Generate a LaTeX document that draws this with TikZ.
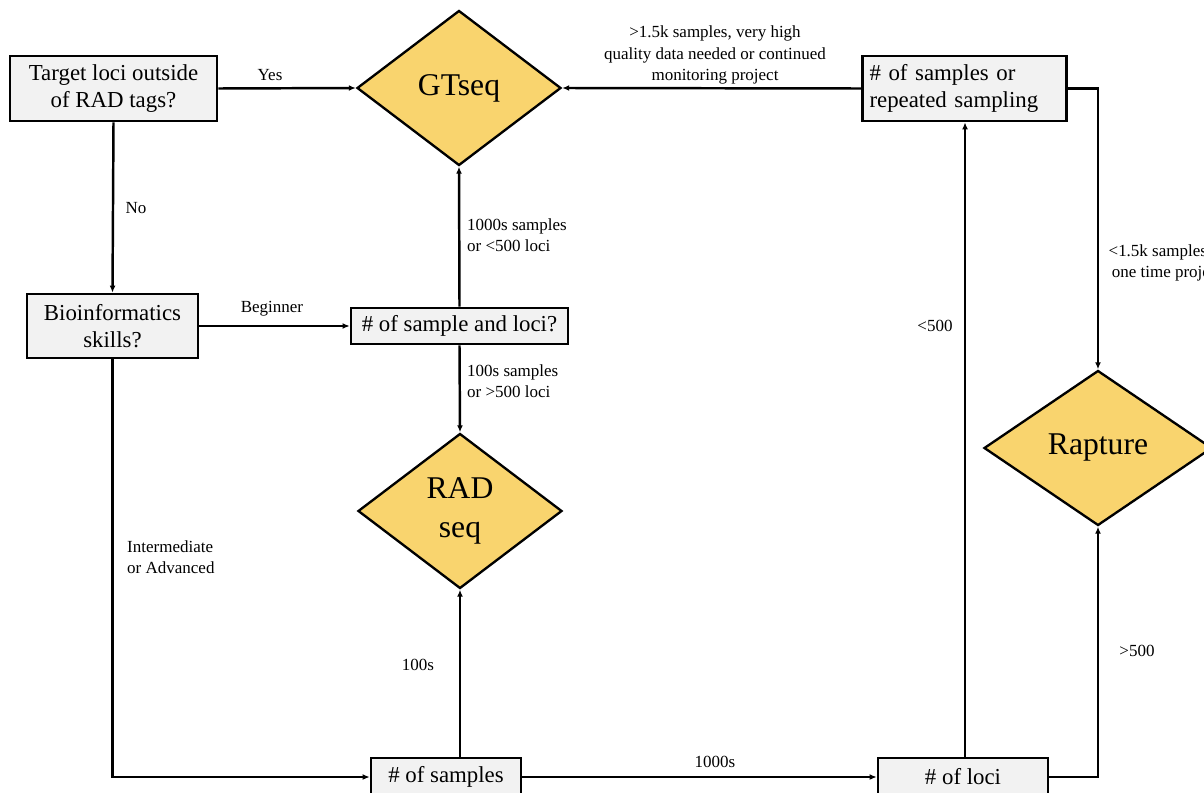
\documentclass[tikz,border=0pt]{standalone}
\usepackage{fontspec}
\setmainfont{Liberation Serif}
\usetikzlibrary{shapes.geometric,arrows.meta}
\definecolor{boxgray}{HTML}{F2F2F2}
\definecolor{decgold}{HTML}{F9D46E}
\tikzset{
  qbox/.style={draw=black, line width=2.2pt, fill=boxgray, inner sep=0pt,
    align=center, font=\fontsize{19.5}{23}\selectfont},
  method/.style={draw=black, line width=2pt, fill=decgold, shape=diamond,
    inner sep=0pt, align=center, font=\fontsize{27}{34}\selectfont},
  arr/.style={line width=2.1pt, -{Latex[length=6pt,width=5pt]}},
  lbl/.style={inner sep=0pt, font=\fontsize{14.5}{18}\selectfont},
}
\begin{document}
\begin{tikzpicture}[x=0.03cm, y=-0.03cm]
\useasboundingbox (0,0) rectangle (1204,793);
\clip (0,0) rectangle (1204,793);

% question boxes
\node[qbox, minimum width=6.21cm, minimum height=1.95cm] (target) at (113.5,88.5)
  {Target loci outside\\of RAD tags?};
\node[qbox, minimum width=5.13cm, minimum height=1.92cm] (bioinf) at (112.5,326)
  {Bioinformatics\\skills?};
\node[qbox, minimum width=6.51cm, minimum height=1.08cm] (sampleloci) at (459.5,326)
  {\# of sample and loci?};
\node[qbox, align=left, text width=5.7cm, inner xsep=0.21cm, minimum height=1.95cm]
  (repeated) at (964.5,88.5) {\# of samples or\\repeated sampling};
\node[qbox, minimum width=4.5cm, minimum height=1.14cm] (samples) at (446,777)
  {\# of samples};
\node[qbox, minimum width=5.1cm, minimum height=1.14cm] (loci) at (963,777)
  {\# of loci};

% methods
\node[method, minimum width=6.12cm, minimum height=4.65cm] (gtseq) at (459,88) {GTseq};
\node[method, minimum width=6.12cm, minimum height=4.65cm] (radseq) at (460,511) {RAD\\seq};
\node[method, minimum width=6.84cm, minimum height=4.65cm] (rapture) at (1098,448) {Rapture};

% connectors
\draw[arr] (target.east) -- (gtseq.west);
\draw[arr] (target.south) -- (bioinf.north);
\draw[arr] (bioinf.east) -- (sampleloci.west);
\draw[arr] (sampleloci.north) -- (gtseq.south);
\draw[arr] (sampleloci.south) -- (radseq.north);
\draw[arr] (bioinf.south) |- (samples.west);
\draw[arr] (radseq.south |- samples.north) -- (radseq.south);
\draw[arr] (samples.east) -- (loci.west);
\draw[arr] (loci.north -| 965,0) -- (repeated.south -| 965,0);
\draw[arr] (loci.east) -| (rapture.south);
\draw[arr] (repeated.east) -| (rapture.north);
\draw[arr] (repeated.west) -- (gtseq.east);

% connector labels
\node[lbl] (yes) at (270,75) {Yes};
\node[lbl] (no) at (136,208) {No};
\node[lbl] (beginner) at (272,309) {Beginner};
\node[lbl, anchor=west, align=left] (many) at (467,235) {1000s samples\\or <500 loci};
\node[lbl, anchor=west, align=left] (few) at (467,381) {100s samples\\or >500 loci};
\node[lbl, anchor=west, align=left] (adv) at (127,557) {Intermediate\\or Advanced};
\node[lbl] (hundreds) at (418,665) {100s};
\node[lbl] (thousands) at (715,762) {1000s};
\node[lbl] (under) at (935,326) {<500};
\node[lbl] (over) at (1137,651) {>500};
\node[lbl, align=center] (highq) at (715,55)
  {>1.5k samples, very high\\quality data needed or continued\\monitoring project};
\node[lbl, align=center] (onetime) at (1167,263) {<1.5k samples or\\one time project};
\end{tikzpicture}
\end{document}
